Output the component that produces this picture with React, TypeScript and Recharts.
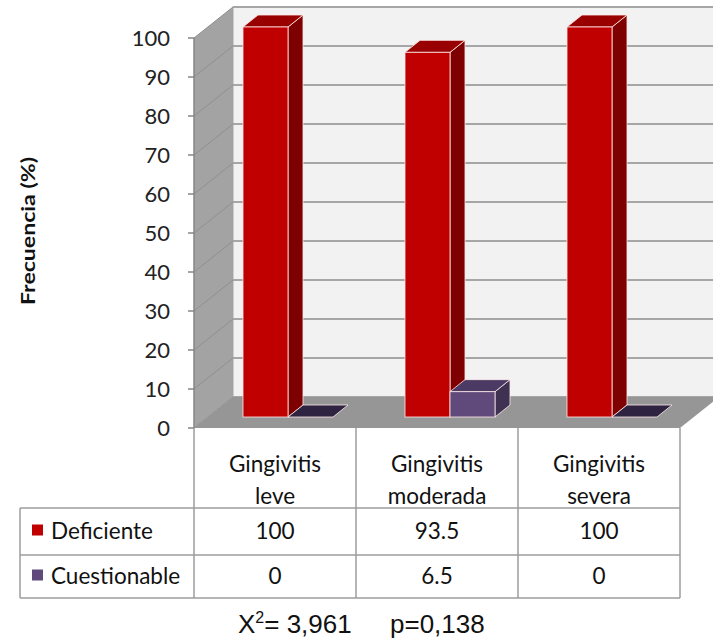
import React from "react"
import { BarChart, Bar, XAxis, YAxis, CartesianGrid, Label } from "recharts"

const categories = ["Gingivitis leve", "Gingivitis moderada", "Gingivitis severa"]
const deficiente = [100, 93.5, 100]
const cuestionable = [0, 6.5, 0]
const yTicks = [0, 10, 20, 30, 40, 50, 60, 70, 80, 90, 100]
const seriesNames = ["Deficiente", "Cuestionable"]

const data = categories.map((name, i) => ({
  name,
  deficiente: deficiente[i],
  cuestionable: cuestionable[i]
}))

// depth of the 3d box (front plane -> back wall)
const WALL_DX = 39
const WALL_DY = 31
// bars sit a bit behind the front plane
const BAR_DX = 13
const BAR_DY = 11
const BAR_DEPTH_X = 15
const BAR_DEPTH_Y = 12

const RED = { front: "#c00000", top: "#990000", side: "#7f0000", flat: "#7f0000" }
const PURPLE = { front: "#604a7b", top: "#4b3a63", side: "#3f3151", flat: "#2e2340" }
const SERIES_COLORS = [RED.front, PURPLE.front]

const FONT = "Lato, 'Noto Sans', sans-serif"
const GRID = "#a6a6a6"
const BORDER = "#9c9c9c"

function Box3D(props: any) {
  const { x, y, width, height, colors } = props
  const fx = x + BAR_DX
  const top = y - BAR_DY
  const bottom = y + height - BAR_DY
  const dx = BAR_DEPTH_X
  const dy = BAR_DEPTH_Y
  const edge = "rgba(255,235,235,0.8)"
  const flat = !(height > 0.5)
  return (
    <g>
      {!flat && (
        <polygon
          points={`${fx + width},${top} ${fx + width + dx},${top - dy} ${fx + width + dx},${bottom - dy} ${fx + width},${bottom}`}
          fill={colors.side}
          stroke={edge}
          strokeWidth={1}
        />
      )}
      <polygon
        points={`${fx},${top} ${fx + dx},${top - dy} ${fx + width + dx},${top - dy} ${fx + width},${top}`}
        fill={flat ? colors.flat : colors.top}
        stroke={edge}
        strokeWidth={1}
      />
      {!flat && (
        <rect x={fx} y={top} width={width} height={height} fill={colors.front} stroke={edge} strokeWidth={1} />
      )}
    </g>
  )
}

// walls, floor and gridlines of the 3d frame, drawn once from the grid's geometry
function renderFrame(props: any) {
  const { index, x, y, width, height, horizontalPoints } = props
  if (index !== 0) return <g />
  const left = x
  const right = x + width
  const topY = y
  const bottomY = y + height
  const points: number[] = horizontalPoints || [props.y1]
  return (
    <g>
      <rect x={left + WALL_DX} y={topY - WALL_DY} width={width + 40} height={height} fill="#f2f2f2" stroke={GRID} strokeWidth={1} />
      {points.map((py, i) => (
        <line key={`b${i}`} x1={left + WALL_DX} x2={right + WALL_DX + 40} y1={py - WALL_DY} y2={py - WALL_DY} stroke={GRID} strokeWidth={2} />
      ))}
      <polygon
        points={`${left},${topY} ${left + WALL_DX},${topY - WALL_DY} ${left + WALL_DX},${bottomY - WALL_DY} ${left},${bottomY}`}
        fill="#a3a3a3"
      />
      {points.map((py, i) => (
        <line key={`s${i}`} x1={left} x2={left + WALL_DX} y1={py} y2={py - WALL_DY} stroke="#8f8f8f" strokeWidth={1} />
      ))}
      <polygon
        points={`${left},${bottomY} ${left + WALL_DX},${bottomY - WALL_DY} ${right + WALL_DX},${bottomY - WALL_DY} ${right},${bottomY}`}
        fill="#969696"
      />
    </g>
  )
}

// each category tick draws its column of the data table underneath the plot
function TableColumn(props: any) {
  const { x, y, index, payload, width, visibleTicksCount } = props
  const half = payload && payload.offset ? payload.offset : width / visibleTicksCount / 2
  const t = y
  const headerBottom = t + 80
  const row1Bottom = t + 127
  const row2Bottom = t + 170
  const [line1, ...rest] = String(payload.value).split(" ")
  const line2 = rest.join(" ")
  const textStyle = { fontFamily: FONT, fontSize: 22.5, fill: "#111" }
  const isLast = index === visibleTicksCount - 1
  const legendLeft = 20
  const colLeft = x - half
  return (
    <g>
      <line x1={colLeft} x2={colLeft} y1={t} y2={row2Bottom} stroke={BORDER} strokeWidth={1.5} />
      {isLast && <line x1={x + half} x2={x + half} y1={t} y2={row2Bottom} stroke={BORDER} strokeWidth={1.5} />}
      <line x1={colLeft} x2={x + half} y1={headerBottom} y2={headerBottom} stroke={BORDER} strokeWidth={1.5} />
      <line x1={colLeft} x2={x + half} y1={row1Bottom} y2={row1Bottom} stroke={BORDER} strokeWidth={1.5} />
      <line x1={colLeft} x2={x + half} y1={row2Bottom} y2={row2Bottom} stroke={BORDER} strokeWidth={1.5} />
      <text x={x} y={t + 35} textAnchor="middle" dominantBaseline="central" style={textStyle}>{line1}</text>
      <text x={x} y={t + 67} textAnchor="middle" dominantBaseline="central" style={textStyle}>{line2}</text>
      <text x={x} y={t + 102} textAnchor="middle" dominantBaseline="central" style={textStyle}>{deficiente[index]}</text>
      <text x={x} y={t + 147} textAnchor="middle" dominantBaseline="central" style={textStyle}>{cuestionable[index]}</text>
      {index === 0 && (
        <g>
          <line x1={legendLeft} x2={colLeft} y1={headerBottom} y2={headerBottom} stroke={BORDER} strokeWidth={1.5} />
          <line x1={legendLeft} x2={colLeft} y1={row1Bottom} y2={row1Bottom} stroke={BORDER} strokeWidth={1.5} />
          <line x1={legendLeft} x2={colLeft} y1={row2Bottom} y2={row2Bottom} stroke={BORDER} strokeWidth={1.5} />
          <line x1={legendLeft} x2={legendLeft} y1={headerBottom} y2={row2Bottom} stroke={BORDER} strokeWidth={1.5} />
          {seriesNames.map((s, i) => {
            const cy = i === 0 ? t + 102 : t + 147
            return (
              <g key={s}>
                <rect x={32} y={cy - 5.5} width={11} height={11} fill={SERIES_COLORS[i]} />
                <text x={51} y={cy} dominantBaseline="central" style={textStyle}>{s}</text>
              </g>
            )
          })}
        </g>
      )}
    </g>
  )
}

function YLabel(props: any) {
  const vb = props.viewBox || { x: 0, y: 38, width: 194, height: 390 }
  const cx = vb.x + 27
  const cy = vb.y + vb.height / 2 - 2
  return (
    <text
      x={cx}
      y={cy}
      transform={`rotate(-90 ${cx} ${cy})`}
      textAnchor="middle"
      dominantBaseline="central"
      textLength={148}
      lengthAdjust="spacingAndGlyphs"
      style={{ fontFamily: FONT, fontSize: 19, fontWeight: 700, fill: "#111" }}
    >
      Frecuencia (%)
    </text>
  )
}

export default function App() {
  return (
    <div style={{ position: "absolute", left: 0, top: 0, width: 713, height: 642, background: "#fff" }}>
      <BarChart
        width={713}
        height={642}
        data={data}
        margin={{ top: 38, right: 33, left: 0, bottom: 0 }}
        barGap={0}
      >
        <CartesianGrid vertical={false} horizontal={renderFrame} />
        <XAxis
          dataKey="name"
          height={214}
          interval={0}
          axisLine={false}
          tickLine={false}
          tickSize={0}
          tickMargin={0}
          tick={<TableColumn />}
        />
        <YAxis
          width={194}
          domain={[0, 100]}
          ticks={yTicks}
          interval={0}
          tickSize={6}
          tickMargin={18}
          axisLine={{ stroke: "#868686", strokeWidth: 1.5 }}
          tickLine={{ stroke: "#868686", strokeWidth: 1.5 }}
          tick={{ fontFamily: FONT, fontSize: 22, fill: "#222" }}
        >
          <Label content={<YLabel />} />
        </YAxis>
        <Bar
          dataKey="deficiente"
          barSize={45}
          isAnimationActive={false}
          shape={(p: any) => <Box3D {...p} colors={RED} />}
        />
        <Bar
          dataKey="cuestionable"
          barSize={45}
          isAnimationActive={false}
          shape={(p: any) => <Box3D {...p} colors={PURPLE} />}
        />
      </BarChart>
      <svg width={713} height={42} style={{ position: "absolute", left: 0, top: 600 }}>
        <text x={238} y={33} style={{ fontFamily: "'Liberation Sans', Arial, sans-serif", fontSize: 26, fill: "#111" }}>
          X<tspan dy={-10} fontSize={16}>2</tspan>
          <tspan dy={10}>= 3,961</tspan>
        </text>
        <text x={390} y={33} style={{ fontFamily: "'Liberation Sans', Arial, sans-serif", fontSize: 26, fill: "#111" }}>
          p=0,138
        </text>
      </svg>
    </div>
  )
}
